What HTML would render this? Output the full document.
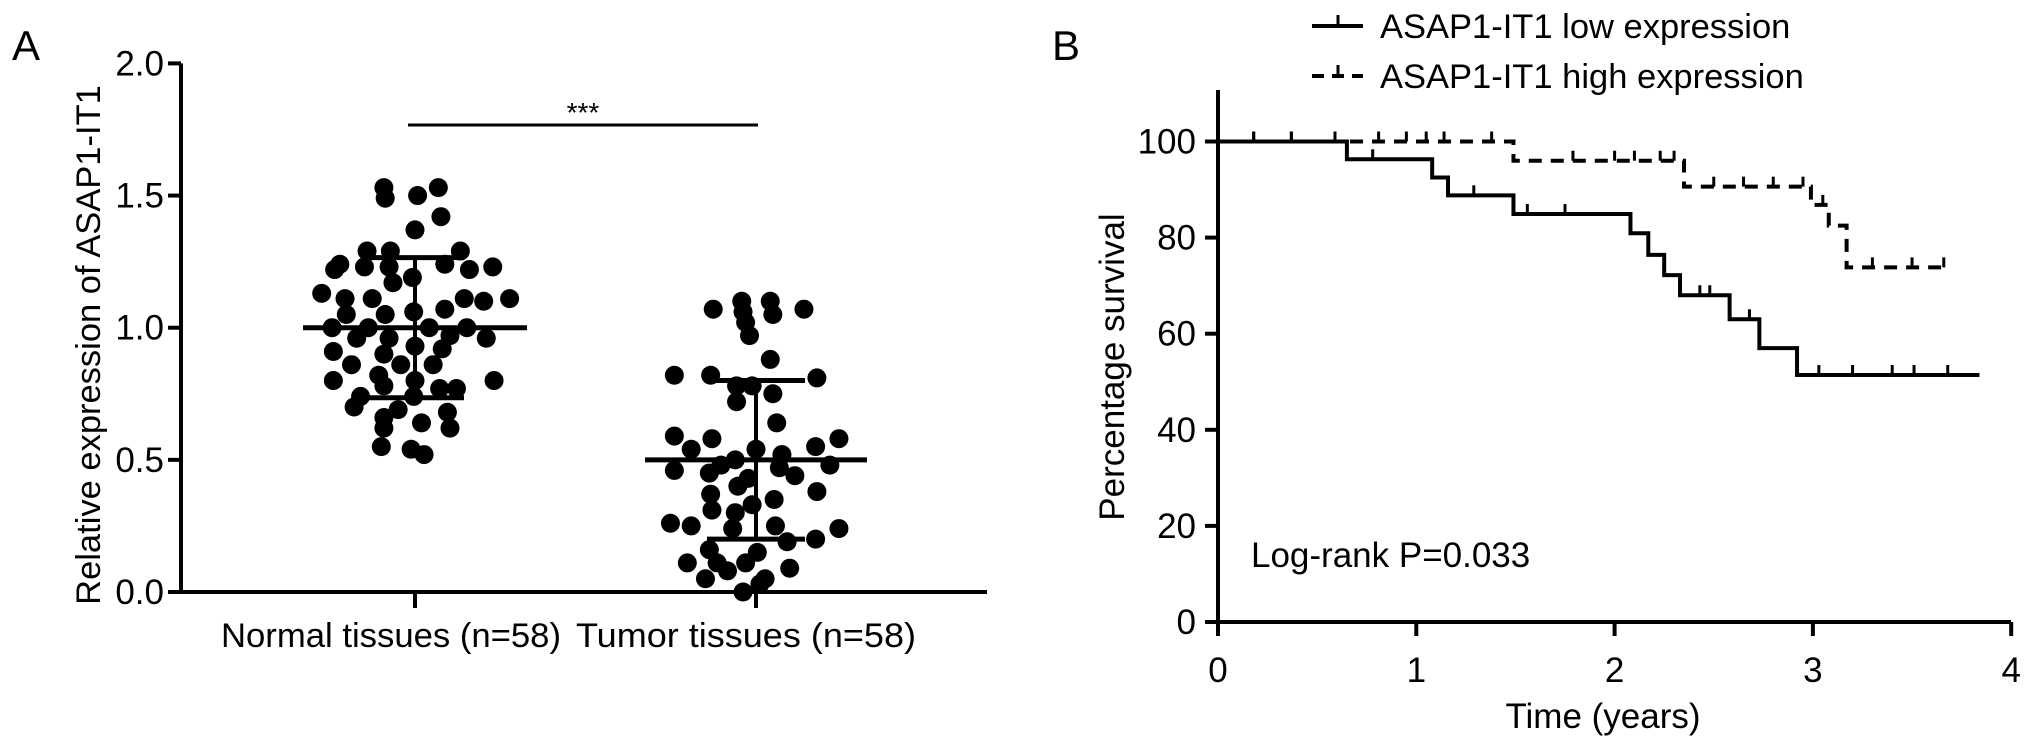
<!DOCTYPE html>
<html><head><meta charset="utf-8"><style>
html,body{margin:0;padding:0;background:#fff;}
svg{display:block;font-family:"Liberation Sans",Arial,sans-serif;}
</style></head><body>
<svg id="fig" width="2032" height="747" viewBox="0 0 2032 747" xmlns="http://www.w3.org/2000/svg">
<text x="12" y="60" font-size="42">A</text>
<text x="1052" y="60" font-size="42">B</text>
<g id="pa"></g>
<g id="pb"></g>
</svg>
<script>
// Panel A data
const catLabels = ["Normal tissues (n=58)", "Tumor tissues (n=58)"];
const yTicksA = [0, 0.5, 1.0, 1.5, 2.0];
const normalVals = [1.53,1.53,1.49,1.50,1.42,1.37,1.29,1.29,1.29,1.24,1.22,1.23,1.23,1.24,1.22,1.23,1.19,1.17,1.13,1.11,1.11,1.11,1.11,1.10,1.07,1.05,1.05,1.06,1.00,1.00,1.00,1.00,0.96,0.96,0.97,0.96,0.93,0.91,0.90,0.92,0.86,0.86,0.86,0.82,0.80,0.80,0.80,0.78,0.77,0.74,0.74,0.77,0.70,0.69,0.68,0.64,0.66,0.62,0.62,0.55,0.54,0.52];
const normalJit = [-24,18,-23,2,20,0,-37,-19,35,-58,-62,-39,-20,23,42,60,-2,-17,-72,-54,-33,38,73,53,23,-53,-23,-1,-64,-36,11,40,-45,-20,27,55,0,-63,-24,21,-11,-49,14,-28,0,-63,61,-24,32,-42,-1,19,-47,-13,25,5,-24,-24,27,-26,-3,7];
const tumorVals = [1.10,1.10,1.07,1.07,1.06,1.05,1.02,0.97,0.88,0.82,0.82,0.81,0.78,0.78,0.75,0.72,0.64,0.59,0.58,0.58,0.55,0.54,0.54,0.52,0.50,0.48,0.47,0.48,0.46,0.45,0.44,0.43,0.40,0.38,0.37,0.35,0.33,0.30,0.31,0.26,0.25,0.25,0.24,0.24,0.20,0.16,0.19,0.11,0.15,0.11,0.11,0.09,0.08,0.05,0.05,0.03,0.0];
const tumorJit = [-11,11,37,-33,-10,13,-8,-5,11,-63,-35,47,-15,-3,13,-15,16,-63,-34,64,46,0,-50,20,-16,57,18,-27,-63,-36,30,-6,-14,47,-35,14,-3,-16,-34,-66,-50,15,64,-18,46,-36,24,-30,1,-8,-53,26,-22,-39,7,3,-10];
const means = [1.0, 0.5];
const sds = [0.265, 0.30];
// Panel B data
const xTicksB = [0,1,2,3,4];
const yTicksB = [0,20,40,60,80,100];
const lowT = [0,0.65,1.08,1.16,1.49,2.08,2.17,2.25,2.33,2.58,2.73,2.92,3.84];
const lowS = [100,96.3,92.5,88.8,84.9,80.9,76.4,72.2,68,63,57,51.4,51.4];
const lowCensT = [0.18,0.37,0.59,0.78,1.29,1.56,1.75,2.43,2.48,2.68,3.03,3.2,3.4,3.51,3.68];
const highT = [0,1.49,2.35,2.99,3.08,3.17,3.66];
const highS = [100,96,90.6,86.8,82.5,73.8,73.8];
const highCensT = [0.18,0.37,0.59,0.81,0.95,1.05,1.14,1.38,1.79,2.0,2.1,2.23,2.3,2.5,2.65,2.8,2.95,3.05,3.3,3.5,3.66];

const NS="http://www.w3.org/2000/svg";
function mk(parent,tag,attrs,text){const e=document.createElementNS(NS,tag);for(const k in attrs)e.setAttribute(k,attrs[k]);if(text!==undefined)e.textContent=text;parent.appendChild(e);return e;}

// ---- Panel A
const pa=document.getElementById('pa');
const yA=v=>592-v*264.3;
const catX=[415,756];
let e=mk(pa,'line',{x1:181,y1:yA(0),x2:181,y2:yA(2),stroke:'#000','stroke-width':4});


e=mk(pa,'line',{x1:168,y1:yA(0),x2:987,y2:yA(0),stroke:'#000','stroke-width':4});


yTicksA.forEach(v=>{
  const t=mk(pa,'line',{x1:168,y1:yA(v),x2:181,y2:yA(v),stroke:'#000','stroke-width':4});
  
  
  const l=mk(pa,'text',{x:164,y:yA(v)+12,'font-size':35,'text-anchor':'end'},v.toFixed(1));
  
  
});
catLabels.forEach((c,i)=>{
  const t=mk(pa,'line',{x1:catX[i],y1:yA(0),x2:catX[i],y2:yA(0)+16,stroke:'#000','stroke-width':4});
  
  
  const l=mk(pa,'text',{x:catX[i]-(i==0?24:10),y:647,'font-size':34,'text-anchor':'middle','textLength':340,'lengthAdjust':'spacingAndGlyphs'},c);
  
  
});
e=mk(pa,'text',{x:0,y:0,'font-size':34.5,'text-anchor':'middle',transform:'translate(100,345) rotate(-90)'},'Relative expression of ASAP1-IT1');


[[normalVals,normalJit],[tumorVals,tumorJit]].forEach(([vals,jit],i)=>{
  vals.forEach((v,j)=>{
    const d=mk(pa,'circle',{cx:catX[i]+jit[j]*1.296,cy:yA(v),r:9.5,fill:'#000'});
    
    
  });
  const hw=[112,111][i], cw=[49,49][i];
  const m=mk(pa,'line',{x1:catX[i]-hw,y1:yA(means[i]),x2:catX[i]+hw,y2:yA(means[i]),stroke:'#000','stroke-width':5});
  
  
  const vl=mk(pa,'line',{x1:catX[i],y1:yA(means[i]-sds[i]),x2:catX[i],y2:yA(means[i]+sds[i]),stroke:'#000','stroke-width':4});
  
  
  [means[i]-sds[i],means[i]+sds[i]].forEach(s=>{
    const c=mk(pa,'line',{x1:catX[i]-cw,y1:yA(s),x2:catX[i]+cw,y2:yA(s),stroke:'#000','stroke-width':5});
    
    
  });
});
e=mk(pa,'line',{x1:408,y1:125,x2:758,y2:125,stroke:'#000','stroke-width':3});


e=mk(pa,'text',{x:583,y:122,'font-size':28,'text-anchor':'middle'},'***');



// ---- Panel B
const pb=document.getElementById('pb');
const xB=t=>1218+t*198.3;
const yB=s=>622-s*4.805;
e=mk(pb,'line',{x1:1218,y1:90,x2:1218,y2:622,stroke:'#000','stroke-width':4});


e=mk(pb,'line',{x1:1205,y1:622,x2:2011,y2:622,stroke:'#000','stroke-width':4});


yTicksB.forEach(v=>{
  const t=mk(pb,'line',{x1:1205,y1:yB(v),x2:1218,y2:yB(v),stroke:'#000','stroke-width':4});
  
  
  const l=mk(pb,'text',{x:1196,y:yB(v)+12,'font-size':35,'text-anchor':'end'},String(v));
  
  
});
xTicksB.forEach(v=>{
  const t=mk(pb,'line',{x1:xB(v),y1:622,x2:xB(v),y2:636,stroke:'#000','stroke-width':4});
  
  
  const l=mk(pb,'text',{x:xB(v),y:682,'font-size':35,'text-anchor':'middle'},String(v));
  
  
});
e=mk(pb,'text',{x:1603,y:728,'font-size':35,'text-anchor':'middle'},'Time (years)');


e=mk(pb,'text',{x:0,y:0,'font-size':35,'text-anchor':'middle',transform:'translate(1124,367) rotate(-90)'},'Percentage survival');


e=mk(pb,'text',{x:1251,y:567,'font-size':35},'Log-rank P=0.033');


function stepPath(T,S){let d='M'+xB(T[0])+','+yB(S[0]);for(let i=1;i<T.length;i++){d+=' H'+xB(T[i])+' V'+yB(S[i]);}return d;}
function survAt(T,S,t){let s=S[0];for(let i=0;i<T.length;i++){if(T[i]<=t)s=S[i];}return s;}
e=mk(pb,'path',{d:stepPath(lowT,lowS),fill:'none',stroke:'#000','stroke-width':4});


e=mk(pb,'path',{d:stepPath(highT,highS),fill:'none',stroke:'#000','stroke-width':4,'stroke-dasharray':'13,9'});


lowCensT.forEach(t=>{const s=survAt(lowT,lowS,t);
  const c=mk(pb,'line',{x1:xB(t),y1:yB(s),x2:xB(t),y2:yB(s)-10,stroke:'#000','stroke-width':3});
  
  });
highCensT.forEach(t=>{const s=survAt(highT,highS,t);
  const c=mk(pb,'line',{x1:xB(t),y1:yB(s),x2:xB(t),y2:yB(s)-10,stroke:'#000','stroke-width':3});
  
  });
// legend
e=mk(pb,'line',{x1:1312,y1:26,x2:1363,y2:26,stroke:'#000','stroke-width':4});


e=mk(pb,'line',{x1:1338,y1:26,x2:1338,y2:15,stroke:'#000','stroke-width':3});


e=mk(pb,'text',{x:1380,y:38,'font-size':34.5},'ASAP1-IT1 low expression');


e=mk(pb,'line',{x1:1312,y1:76,x2:1363,y2:76,stroke:'#000','stroke-width':4,'stroke-dasharray':'12,8'});


e=mk(pb,'line',{x1:1338,y1:76,x2:1338,y2:65,stroke:'#000','stroke-width':3});


e=mk(pb,'text',{x:1380,y:88,'font-size':34.5},'ASAP1-IT1 high expression');


</script>
</body></html>
